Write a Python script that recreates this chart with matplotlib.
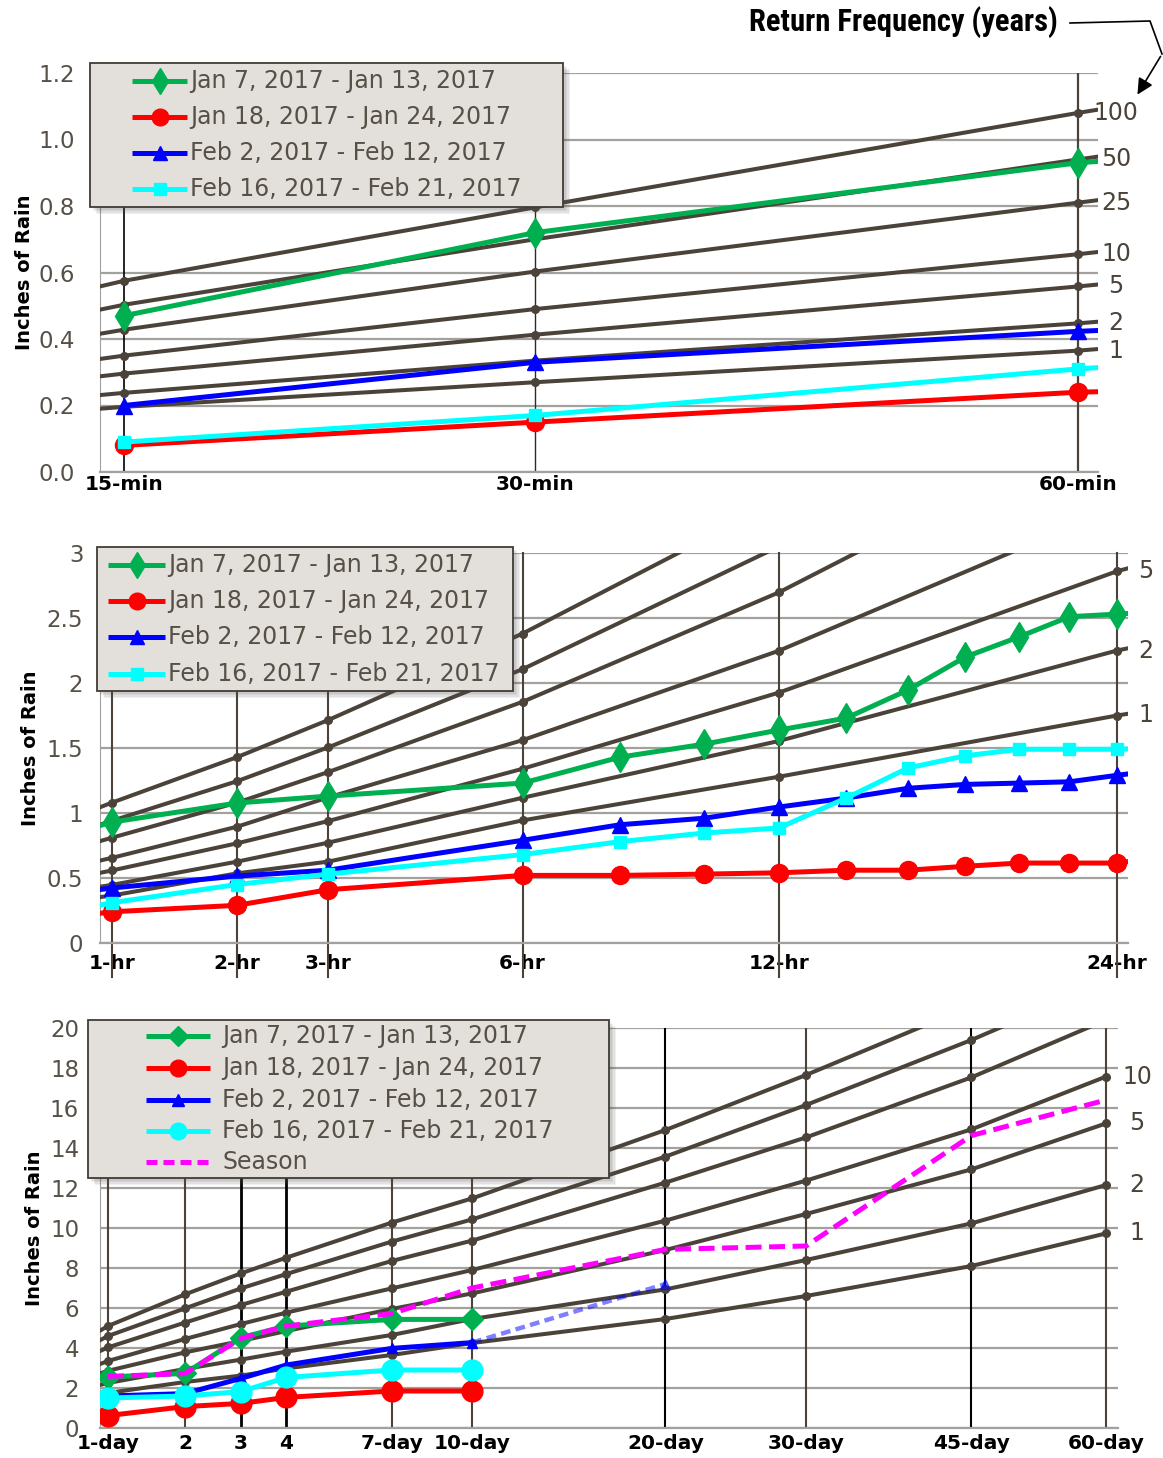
import numpy as np
import matplotlib
matplotlib.use("Agg")
import matplotlib.pyplot as plt
from matplotlib import font_manager, transforms
from matplotlib.lines import Line2D
from matplotlib.patches import Rectangle, FancyArrowPatch
from matplotlib.ticker import NullLocator

# frequency-curve durations in hours (10-min .. 60-day)
durations = [1/6, 0.25, 0.5, 1, 2, 3, 6, 12, 24, 48, 72, 96, 168, 240, 480, 720, 1080, 1440]

# rainfall depth (inches) for each return period
rp_100 = [0.44, 0.575, 0.796, 1.08, 1.43, 1.715, 2.38, 3.40, 5.10, 6.68, 7.73, 8.52, 10.27, 11.48, 14.90, 17.65, 21.10, 23.50]
rp_50 = [0.385, 0.503, 0.700, 0.94, 1.245, 1.505, 2.106, 3.05, 4.60, 5.98, 6.98, 7.70, 9.32, 10.43, 13.57, 16.15, 19.40, 22.30]
rp_25 = [0.33, 0.428, 0.603, 0.81, 1.08, 1.315, 1.855, 2.697, 4.03, 5.27, 6.15, 6.82, 8.35, 9.37, 12.27, 14.53, 17.53, 20.40]
rp_10 = [0.27, 0.350, 0.490, 0.655, 0.895, 1.12, 1.56, 2.248, 3.35, 4.45, 5.20, 5.77, 6.98, 7.90, 10.37, 12.37, 14.93, 17.57]
rp_5 = [0.23, 0.296, 0.413, 0.558, 0.767, 0.938, 1.34, 1.926, 2.86, 3.78, 4.35, 4.85, 5.95, 6.73, 8.90, 10.70, 12.93, 15.23]
rp_2 = [0.185, 0.238, 0.335, 0.447, 0.626, 0.772, 1.117, 1.554, 2.25, 2.95, 3.42, 3.82, 4.65, 5.45, 6.93, 8.40, 10.23, 12.15]
rp_1 = [0.15, 0.196, 0.270, 0.365, 0.536, 0.626, 0.943, 1.279, 1.75, 2.30, 2.62, 2.98, 3.65, 4.25, 5.45, 6.60, 8.10, 9.73]
return_periods = ["100", "50", "25", "10", "5", "2", "1"]
rp_depths = [rp_100, rp_50, rp_25, rp_10, rp_5, rp_2, rp_1]

event_names = ["Jan 7, 2017 - Jan 13, 2017", "Jan 18, 2017 - Jan 24, 2017",
               "Feb 2, 2017 - Feb 12, 2017", "Feb 16, 2017 - Feb 21, 2017"]

# storm maxima (inches) by duration, sub-daily record (hours)
hourly_hours = [0.25, 0.5, 1, 2, 3, 6, 8, 10, 12, 14, 16, 18, 20, 22, 24, 48]
jan07_h = [0.47, 0.72, 0.93, 1.077, 1.13, 1.23, 1.43, 1.53, 1.638, 1.73, 1.946, 2.20, 2.354, 2.51, 2.53, 2.73]
jan18_h = [0.08, 0.15, 0.24, 0.29, 0.41, 0.52, 0.52, 0.53, 0.54, 0.56, 0.56, 0.59, 0.615, 0.615, 0.615, 1.07]
feb02_h = [0.20, 0.33, 0.423, 0.515, 0.56, 0.79, 0.91, 0.96, 1.046, 1.115, 1.19, 1.22, 1.23, 1.24, 1.29, 1.72]
feb16_h = [0.09, 0.17, 0.31, 0.45, 0.53, 0.68, 0.78, 0.846, 0.885, 1.115, 1.346, 1.44, 1.49, 1.49, 1.49, 1.60]

# storm totals (inches) from the daily record (hours)
daily_hours = [24, 48, 72, 96, 168, 240]
jan07_d = [2.55, 2.73, 4.52, 5.10, 5.43, 5.43]
jan18_d = [0.62, 1.07, 1.23, 1.53, 1.85, 1.85]
feb02_d = [1.60, 1.72, 2.48, 3.15, 3.98, 4.27]
feb16_d = [1.50, 1.60, 1.82, 2.53, 2.90, 2.90]

# Feb 2 storm carried forward to 20 days
feb02_ext_hours = [240, 480]
feb02_ext = [4.27, 7.20]

# season-to-date totals
season_hours = [24, 48, 72, 96, 168, 240, 480, 720, 1080, 1440]
season = [2.58, 2.72, 4.48, 5.10, 5.72, 7.00, 8.93, 9.10, 14.62, 16.40]

p1_ticks = [0.25, 0.5, 1]
p1_labels = ["15-min", "30-min", "60-min"]
p2_ticks = [1, 2, 3, 6, 12, 24]
p2_labels = ["1-hr", "2-hr", "3-hr", "6-hr", "12-hr", "24-hr"]
p3_ticks = [24, 48, 72, 96, 168, 240, 480, 720, 1080, 1440]
p3_labels = ["1-day", "2", "3", "4", "7-day", "10-day", "20-day", "30-day", "45-day", "60-day"]

W, H = 1163, 1458
RP_COLOR = "#4b4339"
TEXT = "#575047"
GRID = "#a3a19d"
GREEN, RED, BLUE, CYAN, MAGENTA = "#00b050", "#ff0000", "#0000ff", "#00ffff", "#ff00ff"

# pick the narrowest bold face available for the callout
fonts = font_manager.fontManager.ttflist
names = {f.name for f in fonts}
title_font = dict(family=["DejaVu Sans"])
for fam in ("Liberation Sans Narrow", "Roboto Condensed", "Open Sans Condensed"):
    if fam in names:
        title_font = dict(family=[fam, "DejaVu Sans"])
        break
else:
    if any(f.name == "DejaVu Sans" and "condensed" in str(f.stretch) for f in fonts):
        title_font = dict(family=["DejaVu Sans"], stretch="condensed")

plt.rcParams["font.family"] = ["DejaVu Sans"]

fig = plt.figure(figsize=(W / 100, H / 100), dpi=100)
fig.patch.set_facecolor("white")


def fx(px):
    return px / W


def fy(py):
    return 1 - py / H


def fwd(x):
    return np.power(np.maximum(x, 1e-6), 0.4)


def inv(x):
    return np.power(np.maximum(x, 0), 2.5)


def make_panel(box, xlim, ylim, yticks, ylabels, xticks, xlabels, ypad, xpad, lab_x):
    l, t, r, b = box
    ax = fig.add_axes([fx(l), fy(b), (r - l) / W, (b - t) / H])
    ax.set_xscale("function", functions=(fwd, inv))
    ax.set_xlim(xlim)
    ax.set_ylim(ylim)
    ax.set_yticks(yticks)
    ax.set_yticklabels(ylabels)
    ax.set_xticks(xticks)
    ax.set_xticklabels(xlabels, fontweight="bold", fontsize=14.5, color="black")
    ax.xaxis.set_minor_locator(NullLocator())
    ax.yaxis.set_minor_locator(NullLocator())
    ax.tick_params(axis="y", length=0, pad=ypad, labelsize=16.5, labelcolor=TEXT)
    ax.tick_params(axis="x", length=0, pad=xpad)
    ax.yaxis.grid(True, color=GRID, lw=1.6)
    ax.set_axisbelow(True)
    for s in ("top", "right"):
        ax.spines[s].set_visible(False)
    ax.spines["left"].set_color(GRID)
    ax.spines["left"].set_linewidth(0.8)
    ax.spines["bottom"].set_color(GRID)
    ax.spines["bottom"].set_linewidth(1.6)
    ax.set_ylabel("Inches of Rain", fontweight="bold", fontsize=14, color="black")
    ax.yaxis.set_label_coords(lab_x, 0.5)
    return ax


def draw_curves(ax, ticks, labelled, lab_x):
    lo, hi = ticks[0], ticks[-1]
    keep = [i for i, d in enumerate(durations) if lo <= d <= hi]
    last = durations.index(hi)
    tr = transforms.blended_transform_factory(ax.transAxes, ax.transData)
    for name, depths in zip(return_periods, rp_depths):
        ax.plot(durations, depths, color=RP_COLOR, lw=2.9, marker="o", ms=5.5,
                markevery=keep, zorder=3)
        if name in labelled:
            ax.text(lab_x, depths[last], name, transform=tr, ha="center", va="center",
                    fontsize=17, color=RP_COLOR, clip_on=False)


def draw_events(ax, ticks, hours, series, styles):
    lo, hi = ticks[0], ticks[-1]
    keep = [i for i, d in enumerate(hours) if lo <= d <= hi]
    for vals, st in zip(series, styles):
        ax.plot(hours, vals, color=st["color"], lw=3.6, marker=st["marker"],
                ms=st["ms"], markevery=keep, zorder=4)


def draw_key(box, rows, x0, x1, tx, entries, fsize):
    l, t, r, b = box
    for k in range(1, 6):
        fig.add_artist(Rectangle((fx(l + k * 1.4), fy(b + k * 1.4)), (r - l) / W, (b - t) / H,
                                 transform=fig.transFigure, fc="#555555", ec="none",
                                 alpha=0.09, zorder=8))
    fig.add_artist(Rectangle((fx(l), fy(b)), (r - l) / W, (b - t) / H,
                             transform=fig.transFigure, fc="#e3e0dc", ec="#423c35",
                             lw=1.3, zorder=9))
    for y, (label, st) in zip(rows, entries):
        fig.add_artist(Line2D([fx(x0), fx(x1)], [fy(y), fy(y)], transform=fig.transFigure,
                              color=st["color"], lw=st.get("lw", 3.6), ls=st.get("ls", "-"),
                              dashes=st.get("dashes", (None, None)), zorder=10,
                              solid_capstyle="butt", dash_capstyle="butt"))
        if st.get("marker"):
            fig.add_artist(Line2D([fx((x0 + x1) / 2)], [fy(y)], transform=fig.transFigure,
                                  color=st["color"], marker=st["marker"], ms=st["kms"],
                                  ls="none", zorder=11))
        fig.text(fx(tx), fy(y), label, ha="left", va="center", fontsize=fsize,
                 color=TEXT, zorder=12)


hr_styles = [dict(color=GREEN, marker="d", ms=15, kms=13),
             dict(color=RED, marker="o", ms=13, kms=12),
             dict(color=BLUE, marker="^", ms=11, kms=10),
             dict(color=CYAN, marker="s", ms=9, kms=9)]
day_styles = [dict(color=GREEN, marker="D", ms=11, kms=10),
              dict(color=RED, marker="o", ms=15, kms=12),
              dict(color=BLUE, marker="^", ms=7, kms=8),
              dict(color=CYAN, marker="o", ms=15, kms=12)]
hourly_series = [jan07_h, jan18_h, feb02_h, feb16_h]
daily_series = [jan07_d, jan18_d, feb02_d, feb16_d]

# ---- sub-hourly panel
ax1 = make_panel((100, 73, 1098, 472), (0.2385, 1.0225), (0, 1.2),
                 np.arange(0, 1.21, 0.2), ["%.1f" % v for v in np.arange(0, 1.21, 0.2)],
                 p1_ticks, p1_labels, 18, 2, -0.066)
for t, c, w in zip(p1_ticks, ["black", "#2f2a24", RP_COLOR], [1.2, 1.0, 1.6]):
    ax1.axvline(t, color=c, lw=w, zorder=2)
draw_curves(ax1, p1_ticks, return_periods, 1.018)
draw_events(ax1, p1_ticks, hourly_hours, hourly_series, hr_styles)
draw_key((90, 63, 563, 207), [81, 117, 153, 189], 132, 187, 190,
         list(zip(event_names, hr_styles)), 17)

# ---- hourly panel
ax2 = make_panel((100, 553, 1128, 943), (0.9252, 24.47), (0, 3),
                 np.arange(0, 3.01, 0.5), ["0", "0.5", "1", "1.5", "2", "2.5", "3"],
                 p2_ticks, p2_labels, 12, 8, -0.058)
for t in p2_ticks:
    ax2.axvline(t, ymin=-34 / 390, ymax=1, color=RP_COLOR, lw=1.5, zorder=2, clip_on=False)
draw_curves(ax2, p2_ticks, ["5", "2", "1"], 1.0175)
draw_events(ax2, p2_ticks, hourly_hours, hourly_series, hr_styles)
draw_key((97, 547, 513, 691), [565, 601, 637, 674], 108, 165, 168,
         list(zip(event_names, hr_styles)), 17)

# ---- daily panel
ax3 = make_panel((100, 1028, 1118, 1428), (22.06, 1475.0), (0, 20),
                 np.arange(0, 21, 2), [str(v) for v in range(0, 21, 2)],
                 p3_ticks, p3_labels, 15, 4, -0.055)
vcol = [RP_COLOR, RP_COLOR, "black", "black", RP_COLOR, RP_COLOR, "black", RP_COLOR, "black", RP_COLOR]
vlw = [1.5, 1.5, 2.0, 2.0, 1.5, 1.5, 1.5, 1.5, 1.5, 1.5]
for t, c, w in zip(p3_ticks, vcol, vlw):
    ax3.axvline(t, color=c, lw=w, zorder=2)
draw_curves(ax3, p3_ticks, ["10", "5", "2", "1"], 1.0187)
draw_events(ax3, p3_ticks, daily_hours, daily_series, day_styles)
ax3.plot(feb02_ext_hours, feb02_ext, color=BLUE, lw=3.2, alpha=0.5, dashes=(2.2, 1.2),
         marker="^", ms=7, markevery=[1], zorder=4)
ax3.plot(season_hours, season, color=MAGENTA, lw=3.6, dashes=(3.2, 1.5), zorder=5)
season_style = dict(color=MAGENTA, lw=3.6, dashes=(2.2, 1.2), marker=None)
draw_key((88, 1020, 609, 1178), [1036, 1068, 1100, 1131, 1162], 146, 210, 222,
         list(zip(event_names + ["Season"], day_styles + [season_style])), 17)

# ---- return frequency callout, sized to span 310 px
title = fig.text(fx(903), fy(22), "Return Frequency (years)", ha="center", va="center",
                 fontsize=22, fontweight="bold", color="black", **title_font)
fig.canvas.draw()
tw = title.get_window_extent().width
title.set_fontsize(22 * 310 / tw)
fig.add_artist(Line2D([fx(1070), fx(1150), fx(1162)], [fy(23), fy(21), fy(54)],
                      transform=fig.transFigure, color="black", lw=1.2))
fig.add_artist(FancyArrowPatch((fx(1162), fy(54)), (fx(1136), fy(97)),
                               transform=fig.transFigure, arrowstyle="-|>",
                               mutation_scale=24, color="black", lw=1.2))

fig.savefig("out.png", dpi=100, facecolor="white")
